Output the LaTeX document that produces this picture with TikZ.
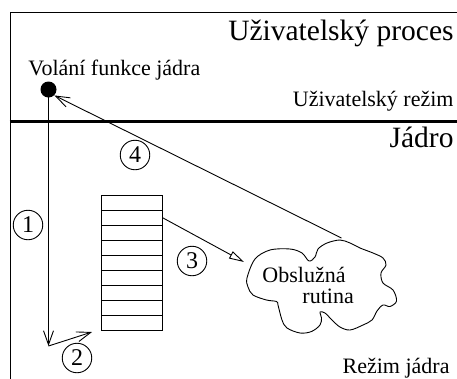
\documentclass[tikz,border=0pt]{standalone}
\usepackage{fontspec}
\setmainfont{Liberation Serif}
\usetikzlibrary{arrows.meta,calc}
\begin{document}
\begin{tikzpicture}[x=1pt,y=-1pt,line width=0.9pt,
  txt/.style={inner sep=0pt,font=\fontsize{22}{26}\selectfont},
  bigtxt/.style={inner sep=0pt,font=\fontsize{29.5}{34}\selectfont},
  num/.style={circle,draw,line width=0.9pt,minimum size=29.5pt,inner sep=0pt,font=\fontsize{24}{28}\selectfont},
  cell/.style={draw,line width=0.9pt,minimum width=61pt,minimum height=15.1pt,inner sep=0pt},
  barb/.style={-{Straight Barb[length=14pt,width=10pt,line width=0.9pt]}},
  openarrow/.style={-{Triangle[open,length=15pt,width=8pt,line width=0.9pt]}}]
\useasboundingbox (0,0) rectangle (457,378);
% user process box
\draw[line width=1.6pt] (470,12.5) -- (10.5,12.5) -- (10.5,121);
\draw[line width=3.5pt] (9.5,121.5) -- (470,121.5);
\draw[line width=1pt] (10.5,121) -- (10.5,390);
% texts
\node[bigtxt,anchor=base east] (up) at (454,40) {Uživatelský proces};
\node[txt,anchor=base east] (ur) at (454,106) {Uživatelský režim};
\node[bigtxt,anchor=base east] (jd) at (454,147) {Jádro};
\node[txt,anchor=base west] (vf) at (28,75) {Volání funkce jádra};
\node[txt,anchor=base east] (rj) at (450,373) {Režim jádra};
% call dot
\node[circle,fill=black,minimum size=16pt,inner sep=0pt] (call) at (48.5,89.5) {};
% stack
\foreach \i in {1,...,9}
  \node[cell] (c\i) at (131.5,{195+15.1*(\i-0.5)}) {};
% blob
\draw[line width=0.9pt] plot[smooth cycle,tension=0.55] coordinates {
  (247,278) (255,259) (270,250) (290,249) (302,253) (309,261) (315,257)
  (318,249) (327,243) (340,240) (350,243) (360,248) (373,253) (383,258)
  (386,265) (381,273) (383,283) (393,290) (396.5,301) (390,306.5) (383,305)
  (377,311) (372,320) (363,325) (350,330) (340,327) (332,320) (325,313)
  (320,312) (321.5,318) (320,325) (311.5,331.5) (300,333) (287,328)
  (282,320) (278,305) (276.5,301.5) (266.5,300) (253,295) (248,287)};
\coordinate (btop) at (341.5,238);
\coordinate (bleft) at (244,262);
\node[txt,anchor=base west] (ob) at (262,282) {Obslužná};
\node[txt,anchor=base west] (ru) at (302,303) {rutina};
% arrows
\coordinate (down) at (48.5,346);
\coordinate (s2) at (92,332);
\draw[barb] (call.center) -- (down);
\draw[barb] (down) -- (s2);
\draw[openarrow] (c2.east) -- (bleft);
\draw[barb] (btop) -- (call.south east);
% numbers
\node[num] (n1) at (28,225) {1};
\node[num] (n2) at (77,358) {2};
\node[num] (n3) at (192,261) {3};
\node[num] (n4) at (135,155) {4};
\end{tikzpicture}
\end{document}
